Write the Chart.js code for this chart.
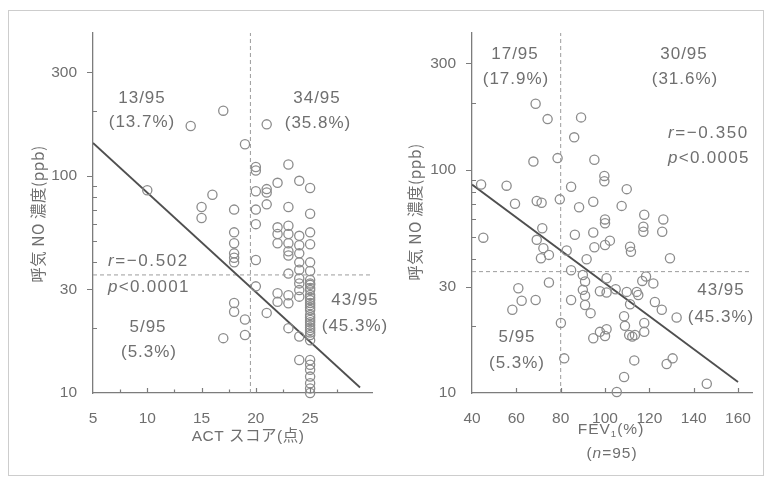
<!DOCTYPE html>
<html>
<head>
<meta charset="utf-8">
<script src="https://cdn.jsdelivr.net/npm/chart.js@4.4.1/dist/chart.umd.min.js"></script>
<style>
  body { margin: 0; background: #fff; width: 770px; height: 479px; overflow: hidden; position: relative; }
  #frame { position: absolute; left: 8px; top: 10px; width: 754px; height: 464px; border: 1px solid #cdcdcd; }
  .panel { position: absolute; top: 0; height: 479px; }
  #left { left: 0; width: 400px; }
  #right { left: 380px; width: 390px; }
</style>
</head>
<body>
<div id="frame"></div>
<div class="panel" id="left"><canvas id="actChart"></canvas></div>
<div class="panel" id="right"><canvas id="fevChart"></canvas></div>
<script>
// ACT score vs exhaled NO (ppb)
const actScore = [
  14, 17, 19, 10, 16, 15, 15, 18, 18, 18, 18, 18, 18,
  18, 18, 19, 19, 17,
  20, 20, 20, 20, 20, 20, 21, 21, 21, 21, 22, 22, 22, 22,
  23, 23, 23, 23, 23, 23, 23, 23, 24, 24, 24, 24, 24, 24,
  25, 25, 25, 25, 25, 25,
  20, 21, 22, 22, 23, 23, 23, 24, 24, 24, 24, 24, 24,
  25, 25, 25, 25, 25, 25, 25, 25, 25, 25, 25, 25, 25, 25, 25,
  25, 25, 25, 25, 25, 25, 25, 25, 25, 25, 25, 25, 25, 25
];
const actNO = [
  170, 200, 140, 86, 82, 72, 64, 70, 55, 49, 44, 42, 40,
  26, 23.7, 21.8, 18.5, 17.9,
  110, 106, 85, 70, 60, 41, 173, 87, 84, 74, 93, 58, 54, 49,
  113, 72, 59, 54, 49, 45, 43, 35.5, 95, 53, 48, 44, 40, 37,
  88, 67, 55, 48.5, 40, 36.5,
  31, 23.4, 28.8, 26.3, 28.2, 25.9, 19.9, 33.7, 32, 29.8, 27.8, 18.2, 14.2,
  33.2, 32, 31.5, 30.5, 29.8, 28.3, 27.5, 26.8, 26, 25.4, 24.7, 24.1, 22.9, 22.3, 21.7,
  21.2, 20.6, 20, 19.5, 19, 18.5, 17.5, 14.2, 13.5, 12.8, 11.9, 11.1, 10.5, 10
];

// FEV1 (% predicted) vs exhaled NO (ppb)
const fev1 = [
  68.7, 74.1, 67.7, 78.6, 44.1, 55.6, 59.4, 69.2, 71.4, 79.6, 71.7, 45.1, 69.2, 72.2, 74.7, 71.1,
  60.9, 62.4, 58.2, 68.7, 74.7,
  89.2, 86.1, 95.2, 99.7, 99.7, 84.7, 109.8, 88.3, 94.7, 107.5, 117.7, 126.3, 100, 100,
  117.3, 117.3, 125.8, 86.4, 94.7, 82.7, 91.7, 95.2, 100, 102.2, 111.3, 111.7, 129.3, 84.7,
  84.7, 80.1, 81.6, 90, 91, 90, 91, 91, 93.5, 97.7, 100.7, 100.7, 104.8, 109.8, 114.3,
  115, 111.3, 116.8, 118.5, 121.8, 122.5, 125.6, 132.3, 108.6, 109, 110.9, 113.5, 112.3,
  117.7, 117.7, 94.7, 97.7, 100, 100.7, 113.2, 108.6, 127.8, 130.5, 105.3, 145.9
];
const fevNO = [
  198, 169, 109, 113, 86, 85, 70.5, 72.6, 71.3, 73.8, 54.8, 49.7, 48.6, 44.6, 41.6, 40.2,
  29.5, 25.9, 23.6, 26.1, 31.3,
  172, 140, 111, 94, 89, 84, 82, 68, 72, 69, 63, 60, 60, 57.7,
  55.6, 52.8, 52.8, 51.2, 52.4, 43.5, 39.8, 45, 46.1, 48.2, 45.3, 43, 40.2, 35.5,
  26.1, 20.6, 14.3, 33.8, 31.6, 29, 27.3, 24.8, 22.8, 28.6, 32.7, 28.2, 29.2, 28.4, 28.4,
  27.5, 25, 31.8, 33.3, 31, 25.6, 23.6, 21.8, 22.1, 20, 18.2, 18.2, 17.9,
  18.8, 20.6, 17.6, 18.8, 18, 19.3, 14, 11.8, 13.5, 14.3, 10.1, 11
];

// regression lines (end points) and cut-offs
const actFit = [{x: 5, y: 142}, {x: 29.6, y: 10.6}];
const fevFit = [{x: 40, y: 86}, {x: 160, y: 11.2}];
const noCutoff = 35;
const actCutoff = 19.5;
const fevCutoff = 80;

const yTicks = [10, 30, 100, 300];
const yMinor = [20, 40, 50, 60, 70, 80, 90, 200];
const actTicks = [5, 10, 15, 20, 25];
const actMinor = [7.5, 10, 12.5, 15, 17.5, 20, 22.5, 25, 27.5];
const fevTicks = [40, 60, 80, 100, 120, 140, 160];
const fevMinor = [60, 80, 100, 120, 140, 160];

const ink = "#6f6f6f";
const axisGray = "#7c7c7c";
const numFont = '"Liberation Sans", "Noto Sans CJK JP", sans-serif';
const jpFont = '"Noto Sans CJK JP", "Liberation Sans", sans-serif';

// draw a run of text pieces, some italic or subscript
function drawParts(ctx, t, offset) {
  const size = t.size || 17;
  const family = t.family || numFont;
  const fontOf = p => (p.it ? "italic " : "") + (p.sub ? size * 0.62 : size) + "px " + family;
  ctx.letterSpacing = (t.spacing == null ? 1 : t.spacing) + "px";
  let total = 0;
  t.parts.forEach(p => { ctx.font = fontOf(p); p.w = ctx.measureText(p.s).width; total += p.w; });
  const x = t.x - offset, align = t.align || "center";
  let cx = align === "center" ? x - total / 2 : align === "right" ? x - total : x;
  ctx.textAlign = "left";
  ctx.textBaseline = "middle";
  t.parts.forEach(p => {
    ctx.font = fontOf(p);
    ctx.fillText(p.s, cx, p.sub ? t.y + size * 0.28 : t.y);
    cx += p.w;
  });
  ctx.letterSpacing = "0px";
}

function panelMarks(cfg) {
  return {
    id: "panelMarks",
    afterDraw(chart) {
      const ctx = chart.ctx;
      const xs = chart.scales.x, ys = chart.scales.y;
      const left = chart.chartArea.left, bottom = chart.chartArea.bottom;
      ctx.save();
      ctx.strokeStyle = axisGray;
      ctx.lineWidth = 1.2;
      ctx.beginPath();
      yTicks.slice(1).forEach(v => {
        const py = Math.round(ys.getPixelForValue(v)) + 0.5;
        ctx.moveTo(left - 6, py); ctx.lineTo(left, py);
      });
      yMinor.forEach(v => {
        const py = Math.round(ys.getPixelForValue(v)) + 0.5;
        ctx.moveTo(left, py); ctx.lineTo(left + 4, py);
      });
      cfg.xMinor.forEach(v => {
        const px = Math.round(xs.getPixelForValue(v)) + 0.5;
        const len = cfg.xTicks.includes(v) ? 5 : 3.5;
        ctx.moveTo(px, bottom); ctx.lineTo(px, bottom - len);
      });
      ctx.stroke();

      ctx.fillStyle = ink;
      cfg.texts.forEach(t => drawParts(ctx, t, cfg.offset));

      // vertical axis title
      ctx.translate(cfg.yTitleX - cfg.offset, cfg.yTitleY);
      ctx.rotate(-Math.PI / 2);
      ctx.font = "15.5px " + jpFont;
      ctx.letterSpacing = "0.5px";
      ctx.textAlign = "center";
      ctx.textBaseline = "middle";
      ctx.fillText("呼気 NO 濃度(ppb)", 0, 0);
      ctx.restore();
    }
  };
}

function makePanel(id, p) {
  const points = p.xs.map((x, i) => ({x: x, y: p.ys[i]}));
  const dashed = {type: "line", borderColor: "#9c9c9c", borderWidth: 1, borderDash: [4, 3], pointRadius: 0, fill: false};
  return new Chart(document.getElementById(id), {
    type: "scatter",
    data: {
      datasets: [
        {data: points, pointStyle: "circle", pointRadius: 4.6, borderWidth: 1.3,
         borderColor: "#8c8c8c", backgroundColor: "rgba(0,0,0,0)", clip: false},
        {type: "line", data: p.fit, borderColor: "#4f4f4f", borderWidth: 1.8, pointRadius: 0, fill: false},
        Object.assign({data: [{x: p.xMin, y: noCutoff}, {x: p.xMax, y: noCutoff}]}, dashed),
        Object.assign({data: [{x: p.xCut, y: 10}, {x: p.xCut, y: p.yMax}]}, dashed)
      ]
    },
    options: {
      responsive: true,
      maintainAspectRatio: false,
      animation: false,
      layout: {padding: {top: 33, right: p.padRight, left: 0, bottom: 0}},
      plugins: {legend: {display: false}, tooltip: {enabled: false}},
      scales: {
        x: {
          type: "linear", min: p.xMin, max: p.xMax,
          afterFit: s => { s.height = 86; },
          afterBuildTicks: s => { s.ticks = p.xTicks.map(v => ({value: v})); },
          grid: {display: false},
          border: {color: axisGray, width: 1.3},
          ticks: {color: ink, font: {family: numFont, size: 15.5}, padding: 8, maxRotation: 0, autoSkip: false}
        },
        y: {
          type: "logarithmic", min: 10, max: p.yMax,
          afterFit: s => { s.width = p.yWidth; },
          afterBuildTicks: s => { s.ticks = yTicks.map(v => ({value: v})); },
          grid: {display: false},
          border: {color: axisGray, width: 1.3},
          ticks: {color: ink, font: {family: numFont, size: 15.5}, padding: 8, callback: v => String(v)}
        }
      }
    },
    plugins: [panelMarks(p)]
  });
}

makePanel("actChart", {
  xs: actScore, ys: actNO, fit: actFit,
  xMin: 5, xMax: 30.7, xCut: actCutoff, yMax: 456,
  xTicks: actTicks, xMinor: actMinor,
  padRight: 28, yWidth: 93, offset: 0,
  yTitleX: 38, yTitleY: 214,
  texts: [
    {parts: [{s: "13/95"}], x: 142, y: 98},
    {parts: [{s: "(13.7%)"}], x: 142, y: 122},
    {parts: [{s: "34/95"}], x: 317, y: 98},
    {parts: [{s: "(35.8%)"}], x: 318, y: 123},
    {parts: [{s: "r", it: true}, {s: "=−0.502"}], x: 108, y: 261, align: "left", spacing: 1.6},
    {parts: [{s: "p", it: true}, {s: "<0.0001"}], x: 108, y: 287, align: "left", spacing: 1.3},
    {parts: [{s: "43/95"}], x: 355, y: 300},
    {parts: [{s: "(45.3%)"}], x: 355, y: 326},
    {parts: [{s: "5/95"}], x: 148, y: 327},
    {parts: [{s: "(5.3%)"}], x: 149, y: 352},
    {parts: [{s: "ACT スコア(点)"}], x: 248, y: 437, size: 15.5, spacing: 0.5}
  ]
});

makePanel("fevChart", {
  xs: fev1, ys: fevNO, fit: fevFit,
  xMin: 40, xMax: 166.3, xCut: fevCutoff, yMax: 411,
  xTicks: fevTicks, xMinor: fevMinor,
  padRight: 18, yWidth: 92, offset: 380,
  yTitleX: 415, yTitleY: 212,
  texts: [
    {parts: [{s: "17/95"}], x: 515, y: 54},
    {parts: [{s: "(17.9%)"}], x: 516, y: 79},
    {parts: [{s: "30/95"}], x: 684, y: 54},
    {parts: [{s: "(31.6%)"}], x: 685, y: 79},
    {parts: [{s: "r", it: true}, {s: "=−0.350"}], x: 668, y: 133, align: "left", spacing: 1.6},
    {parts: [{s: "p", it: true}, {s: "<0.0005"}], x: 668, y: 158, align: "left", spacing: 1.3},
    {parts: [{s: "43/95"}], x: 721, y: 290},
    {parts: [{s: "(45.3%)"}], x: 721, y: 317},
    {parts: [{s: "5/95"}], x: 517, y: 337},
    {parts: [{s: "(5.3%)"}], x: 517, y: 363},
    {parts: [{s: "FEV"}, {s: "1", sub: true}, {s: "(%)"}], x: 611, y: 430, size: 15.5},
    {parts: [{s: "("}, {s: "n", it: true}, {s: "=95)"}], x: 612, y: 454, size: 15.5}
  ]
});
</script>
</body>
</html>
